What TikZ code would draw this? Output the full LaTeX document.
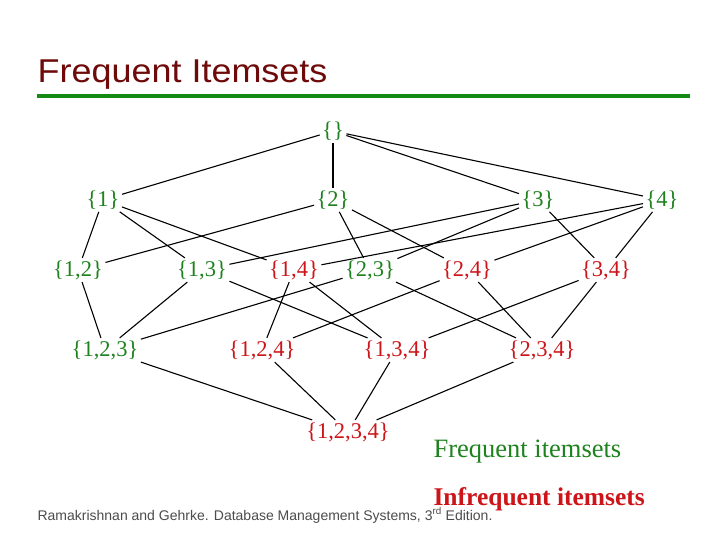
\documentclass[tikz,border=0pt]{standalone}
\usepackage{fontspec}
\setmainfont{Liberation Serif}
\newfontfamily\arialfont{Liberation Sans}
\definecolor{fqgreen}{RGB}{30,130,30}
\definecolor{infred}{RGB}{205,20,25}
\definecolor{titlered}{RGB}{110,10,10}
\definecolor{rulegreen}{RGB}{20,140,20}
\begin{document}
\begin{tikzpicture}[x=1pt, y=-1pt, line width=1.1pt,
  itemset/.style={inner sep=2pt, font=\fontsize{22.5}{24}\selectfont},
  fq/.style={itemset, text=fqgreen},
  infq/.style={itemset, text=infred}]
\useasboundingbox[fill=white] (0,0) rectangle (720,540);

\node[anchor=base west, text=titlered, inner sep=0pt, xscale=1.09, font=\arialfont\fontsize{33}{36}\selectfont] (title) at (37,83) {Frequent Itemsets};
\draw[rulegreen, line width=4pt] (37,96) -- (690,96);

\node[fq] (e) at (333,131) {\{\}};

\node[fq] (s1) at (103,200) {\{1\}};
\node[fq] (s2) at (333,200) {\{2\}};
\node[fq] (s3) at (538,200) {\{3\}};
\node[fq] (s4) at (662,200) {\{4\}};

\node[fq] (s12) at (78,270) {\{1,2\}};
\node[fq] (s13) at (202,270) {\{1,3\}};
\node[infq] (s14) at (294,270) {\{1,4\}};
\node[fq] (s23) at (370,270) {\{2,3\}};
\node[infq] (s24) at (467,270) {\{2,4\}};
\node[infq] (s34) at (606,270) {\{3,4\}};

\node[fq] (s123) at (105,350) {\{1,2,3\}};
\node[infq] (s124) at (262,350) {\{1,2,4\}};
\node[infq] (s134) at (397,350) {\{1,3,4\}};
\node[infq] (s234) at (542,350) {\{2,3,4\}};

\node[infq] (s1234) at (348,432) {\{1,2,3,4\}};

\node[anchor=base west, inner sep=0pt, text=fqgreen, font=\fontsize{26.5}{28}\selectfont] (lfq) at (433,457) {Frequent itemsets};
\node[anchor=base west, inner sep=0pt, text=infred, font=\bfseries\fontsize{25.5}{28}\selectfont] (linf) at (433,505) {Infrequent itemsets};
\node[anchor=base west, inner sep=0pt, text=black!70, font=\arialfont\fontsize{14}{16}\selectfont] (src) at (37,520) {Ramakrishnan and Gehrke. Database Management Systems, 3\textsuperscript{rd} Edition.};

% empty set to singletons
\draw (e) -- (s1);
\draw (e) -- (s2);
\draw (e) -- (s3);
\draw (e) -- (s4);
% singletons to pairs
\draw (s1) -- (s12);
\draw (s1) -- (s13);
\draw (s1) -- (s14);
\draw (s2) -- (s12);
\draw (s2) -- (s23);
\draw (s2) -- (s24);
\draw (s3) -- (s13);
\draw (s3) -- (s23);
\draw (s3) -- (s34);
\draw (s4) -- (s14);
\draw (s4) -- (s24);
\draw (s4) -- (s34);
% pairs to triples
\draw (s12) -- (s123);
\draw (s13) -- (s123);
\draw (s13) -- (s134);
\draw (s14) -- (s124);
\draw (s14) -- (s134);
\draw (s23) -- (s123);
\draw (s23) -- (s234);
\draw (s24) -- (s124);
\draw (s24) -- (s234);
\draw (s34) -- (s134);
\draw (s34) -- (s234);
% triples to full set
\draw (s123) -- (s1234);
\draw (s124) -- (s1234);
\draw (s134) -- (s1234);
\draw (s234) -- (s1234);
\end{tikzpicture}
\end{document}
